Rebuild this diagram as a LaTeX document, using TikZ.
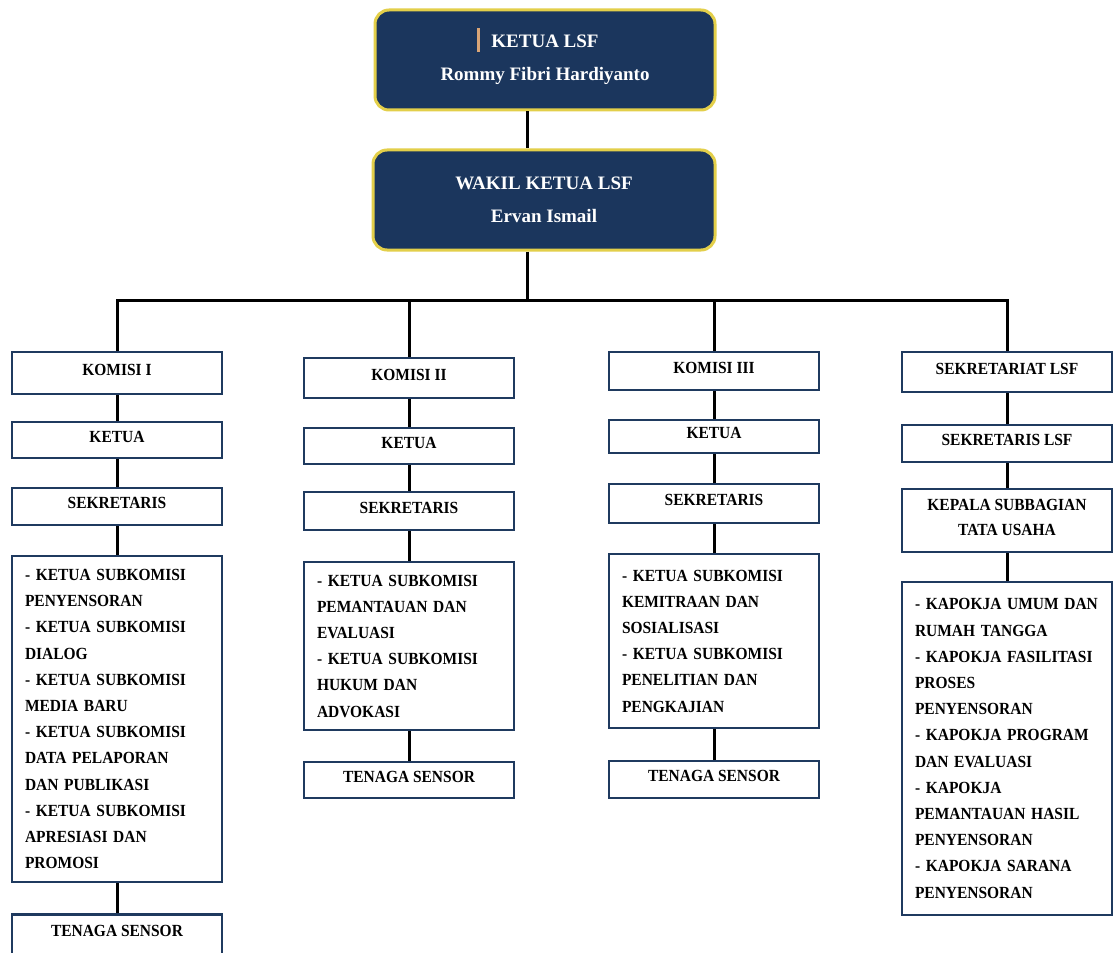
\documentclass[tikz,border=0pt]{standalone}
\usepackage{fontspec}
\setmainfont{Liberation Serif}
\newfontfamily\narrowserif[FakeStretch=0.91]{Liberation Serif}
\definecolor{navy}{HTML}{1B365D}
\definecolor{gold}{HTML}{E3CF4A}
\definecolor{boxc}{HTML}{1F3A5F}
\definecolor{cursor}{HTML}{D9A577}
\hyphenpenalty=10000
\begin{document}
\begin{tikzpicture}[x=1pt,y=-1pt,
  topbox/.style={draw=gold, line width=3pt, fill=navy, rounded corners=14pt,
    text=white, align=center, inner sep=0pt,
    font=\bfseries\fontsize{19}{33}\selectfont},
  unit/.style={draw=boxc, line width=2.6pt, fill=white, align=center,
    minimum width=210pt, inner sep=0pt, text depth=7pt,
    font=\narrowserif\bfseries\fontsize{17}{25}\selectfont},
  listbox/.style={draw=boxc, line width=2.6pt, fill=white, align=left,
    text width=184pt, inner xsep=13pt, inner ysep=0pt,
    font=\narrowserif\bfseries\fontsize{17}{26.2}\selectfont},
  conn/.style={line width=3pt, black}]
\useasboundingbox (0,0) rectangle (1115,952);
\fill[white] (0,0) rectangle (1115,952);

% top
\node[topbox, minimum width=340pt, minimum height=100pt] (ketua) at (545,60)
  {KETUA LSF\\Rommy Fibri Hardiyanto};
\node[topbox, minimum width=342pt, minimum height=100pt] (wakil) at (544,200)
  {WAKIL KETUA LSF\\Ervan Ismail};
\fill[cursor] (477,28) rectangle (480,52);

% column 1
\node[unit, minimum height=42pt] (k1) at (117,373) {KOMISI I};
\node[unit, minimum height=36pt] (k1a) at (117,440) {KETUA};
\node[unit, minimum height=37pt] (k1b) at (117,506.5) {SEKRETARIS};
\node[listbox, minimum height=326pt] (k1c) at (117,719) {- KETUA SUBKOMISI\\PENYENSORAN\\- KETUA SUBKOMISI\\DIALOG\\- KETUA SUBKOMISI\\MEDIA BARU\\- KETUA SUBKOMISI\\DATA PELAPORAN\\DAN PUBLIKASI\\- KETUA SUBKOMISI\\APRESIASI DAN\\PROMOSI};
\node[unit, minimum height=40pt, anchor=north] (k1d) at (117,913) {TENAGA SENSOR};

% column 2
\node[unit, minimum height=40pt] (k2) at (409,378) {KOMISI II};
\node[unit, minimum height=36pt] (k2a) at (409,446) {KETUA};
\node[unit, minimum height=38pt] (k2b) at (409,511) {SEKRETARIS};
\node[listbox, minimum height=168pt] (k2c) at (409,646) {- KETUA SUBKOMISI\\PEMANTAUAN DAN\\EVALUASI\\- KETUA SUBKOMISI\\HUKUM DAN\\ADVOKASI};
\node[unit, minimum height=36pt] (k2d) at (409,780) {TENAGA SENSOR};

% column 3
\node[unit, minimum height=38pt] (k3) at (714,371) {KOMISI III};
\node[unit, minimum height=33pt] (k3a) at (714,436.5) {KETUA};
\node[unit, minimum height=39pt] (k3b) at (714,503.5) {SEKRETARIS};
\node[listbox, minimum height=174pt] (k3c) at (714,641) {- KETUA SUBKOMISI\\KEMITRAAN DAN\\SOSIALISASI\\- KETUA SUBKOMISI\\PENELITIAN DAN\\PENGKAJIAN};
\node[unit, minimum height=37pt] (k3d) at (714,779.5) {TENAGA SENSOR};

% column 4
\node[unit, minimum height=40pt] (s4) at (1007,372) {SEKRETARIAT LSF};
\node[unit, minimum height=37pt] (s4a) at (1007,443.5) {SEKRETARIS LSF};
\node[unit, minimum height=63pt] (s4b) at (1007,520.5) {KEPALA SUBBAGIAN\\TATA USAHA};
\node[listbox, minimum height=333pt] (s4c) at (1007,748.5) {- KAPOKJA UMUM DAN\\RUMAH TANGGA\\- KAPOKJA FASILITASI\\PROSES\\PENYENSORAN\\- KAPOKJA PROGRAM\\DAN EVALUASI\\- KAPOKJA\\PEMANTAUAN HASIL\\PENYENSORAN\\- KAPOKJA SARANA\\PENYENSORAN};

% connectors
\coordinate (bus) at (527,300);
\draw[conn] (ketua.south -| bus) -- (wakil.north -| bus);
\draw[conn] (wakil.south -| bus) -- (bus);
\draw[conn, line cap=rect] (k1.north |- bus) -- (s4.north |- bus);
\foreach \n in {k1,k2,k3,s4} {
  \draw[conn] (\n.north |- bus) -- (\n.north);
}
\foreach \a/\b in {k1/k1a,k1a/k1b,k1b/k1c,k1c/k1d,
                   k2/k2a,k2a/k2b,k2b/k2c,k2c/k2d,
                   k3/k3a,k3a/k3b,k3b/k3c,k3c/k3d,
                   s4/s4a,s4a/s4b,s4b/s4c} {
  \draw[conn] (\a.south) -- (\a.south |- \b.north);
}
\end{tikzpicture}
\end{document}
